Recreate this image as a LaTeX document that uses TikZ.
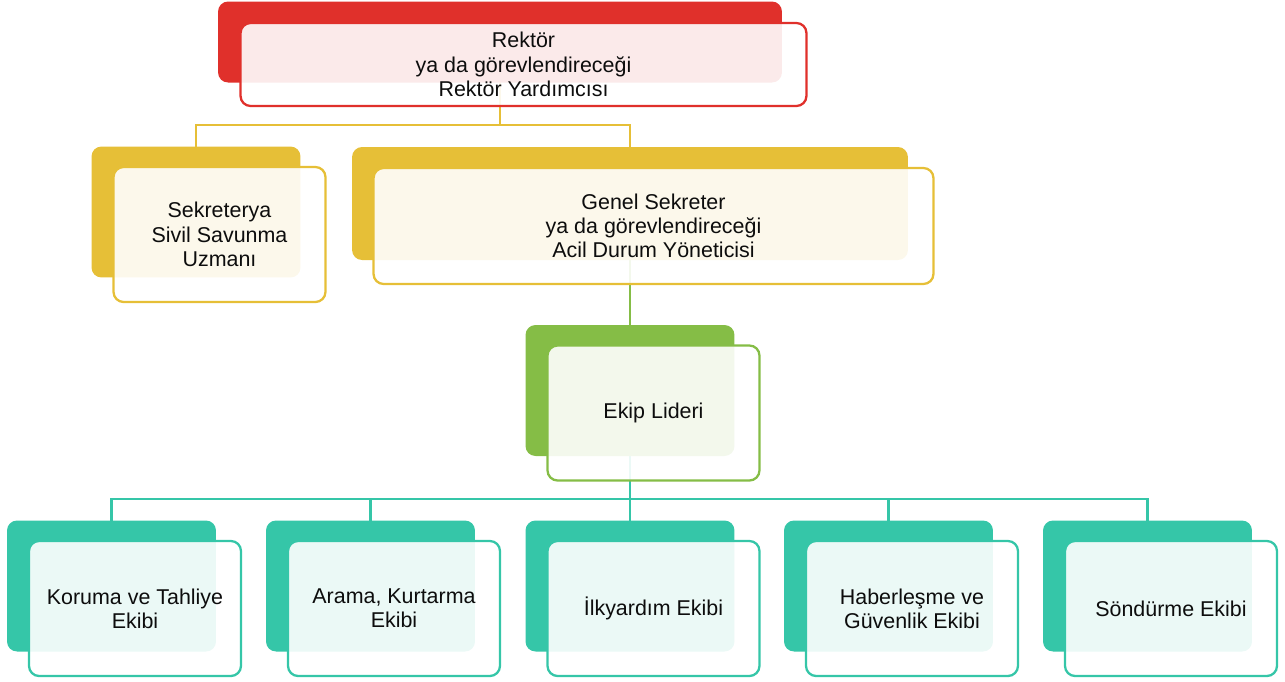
\documentclass[tikz,border=0pt]{standalone}
\usepackage{fontspec}
\setmainfont{Liberation Sans}
\usetikzlibrary{backgrounds}

\definecolor{cRed}{HTML}{E0302B}
\definecolor{cYellow}{HTML}{E6BF37}
\definecolor{cGreen}{HTML}{85BD46}
\definecolor{cTeal}{HTML}{35C6A8}

\begin{document}
\begin{tikzpicture}[%
        x = 0.02cm, y = -0.02cm,
        back/.style = {fill = #1, rounded corners = 0.2cm, inner sep = 0pt},
        front/.style = {draw = #1, fill = white, fill opacity = 0.9,
            text opacity = 1, line width = 1.3pt, rounded corners = 0.2cm,
            xshift = 0.47cm, yshift = -0.45cm, align = center,
            text = black!95, font = \fontsize{12.2}{13.8}\selectfont},
        smallBack/.style = {minimum width = 4.18cm, minimum height = 2.62cm},
        smallFront/.style = {minimum width = 4.24cm, minimum height = 2.70cm},
        link/.style = {draw = #1, line width = 1.3pt}
    ]

        \useasboundingbox (0, 0) rectangle (1285, 681);

        % Where the two horizontal bars run.
        \coordinate (yellowBar) at (0, 125);
        \coordinate (tealBar) at (0, 499);

        % The rector on top.
        \node[back = cRed, minimum width = 11.28cm, minimum height = 1.62cm]
            (rektorB) at (500, 42) {};
        \node[front = cRed, minimum width = 11.32cm, minimum height = 1.66cm]
            (rektor) at (rektorB)
            {Rektör\\ya da görevlendireceği\\Rektör Yardımcısı};

        % Second row.
        \node[back = cYellow, smallBack] (sekrB) at (196, 212) {};
        \node[front = cYellow, smallFront] (sekr) at (sekrB)
            {Sekreterya\\Sivil Savunma\\Uzmanı};
        \node[back = cYellow, minimum width = 11.12cm, minimum height = 2.26cm]
            (genelB) at (630, 203.5) {};
        \node[front = cYellow, minimum width = 11.2cm, minimum height = 2.32cm]
            (genel) at (genelB)
            {Genel Sekreter\\ya da görevlendireceği\\Acil Durum Yöneticisi};

        % The team leader.
        \node[back = cGreen, smallBack] (ekipB) at (630, 390.5) {};
        \node[front = cGreen, smallFront] (ekip) at (ekipB) {Ekip Lideri};

        % The five teams.
        \node[back = cTeal, smallBack] (korumaB) at (111.5, 586) {};
        \node[front = cTeal, smallFront] (koruma) at (korumaB)
            {Koruma ve Tahliye\\Ekibi};
        \node[back = cTeal, smallBack] (aramaB) at (370.5, 586) {};
        \node[front = cTeal, smallFront] (arama) at (aramaB)
            {Arama, Kurtarma\\Ekibi};
        \node[back = cTeal, smallBack] (ilkB) at (630, 586) {};
        \node[front = cTeal, smallFront] (ilk) at (ilkB) {İlkyardım Ekibi};
        \node[back = cTeal, smallBack] (haberB) at (888.5, 586) {};
        \node[front = cTeal, smallFront] (haber) at (haberB)
            {Haberleşme ve\\Güvenlik Ekibi};
        \node[back = cTeal, smallBack] (sondB) at (1147.5, 586) {};
        \node[front = cTeal, smallFront] (sond) at (sondB) {Söndürme Ekibi};

        % Connectors, behind the boxes.
        \begin{scope}[on background layer]
            \draw[link = cYellow] (rektorB.center) -- (rektorB |- yellowBar)
                -| (sekrB.center);
            \draw[link = cYellow] (rektorB |- yellowBar) -| (genelB.center);
            \draw[link = cGreen] (genelB.center) -- (ekipB.center);
            \draw[link = cTeal] (ekipB.center) -- (ekipB |- tealBar)
                -| (korumaB.center);
            \draw[link = cTeal] (ekipB |- tealBar) -| (aramaB.center);
            \draw[link = cTeal] (ekipB |- tealBar) -- (ilkB.center);
            \draw[link = cTeal] (ekipB |- tealBar) -| (haberB.center);
            \draw[link = cTeal] (ekipB |- tealBar) -| (sondB.center);
        \end{scope}
    \end{tikzpicture}
\end{document}
